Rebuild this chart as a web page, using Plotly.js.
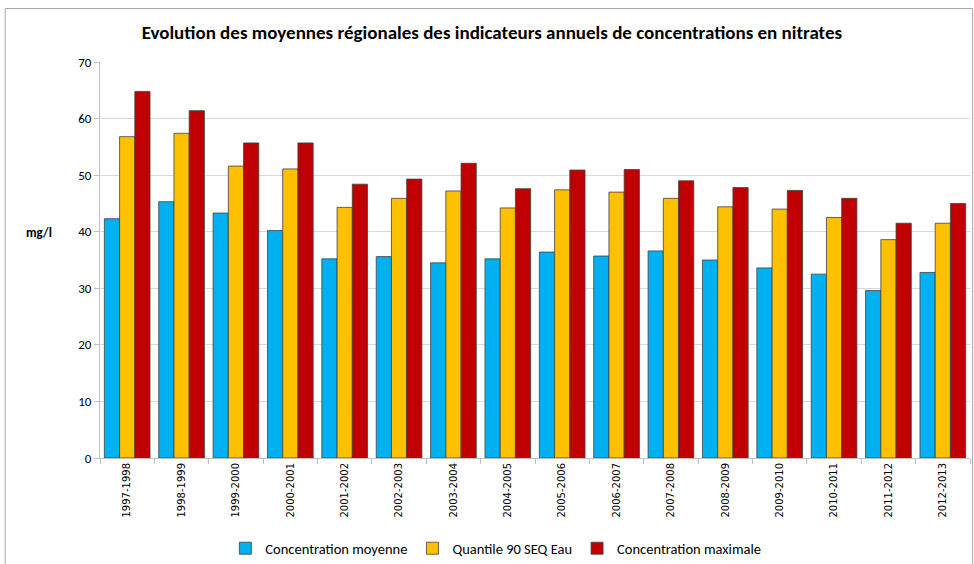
<!DOCTYPE html>
<html><head><meta charset="utf-8">
<script src="https://cdn.plot.ly/plotly-3.0.1.min.js"></script>
<style>body{margin:0;background:#fff}#chart{width:974px;height:564px}</style>
</head><body><div id="chart"></div>
<script>
const categories = ["1997-1998","1998-1999","1999-2000","2000-2001","2001-2002","2002-2003","2003-2004","2004-2005","2005-2006","2006-2007","2007-2008","2008-2009","2009-2010","2010-2011","2011-2012","2012-2013"];
const moyenne = [42.3,45.3,43.3,40.2,35.2,35.6,34.5,35.2,36.4,35.7,36.6,35.0,33.6,32.5,29.6,32.8];
const quantile90 = [56.8,57.4,51.6,51.1,44.3,45.9,47.2,44.2,47.4,47.0,45.9,44.4,44.0,42.5,38.6,41.5];
const maximale = [64.8,61.4,55.7,55.7,48.4,49.3,52.1,47.6,50.9,51.0,49.0,47.8,47.3,45.9,41.5,45.0];
const yTicks = [0,10,20,30,40,50,60,70];

const font = "Liberation Sans Narrow, Carlito, Noto Sans, sans-serif";
const line = {color:'#404040', width:0.8};
const traces = [
  {type:'bar', name:'Concentration moyenne', x:categories, y:moyenne, marker:{color:'#00B0F0', line:line}},
  {type:'bar', name:'Quantile 90 SEQ Eau', x:categories, y:quantile90, marker:{color:'#FFC000', line:line}},
  {type:'bar', name:'Concentration maximale', x:categories, y:maximale, marker:{color:'#C00000', line:line}}
];
const layout = {
  width:974, height:564,
  margin:{l:100, r:4, t:62, b:106, autoexpand:false},
  paper_bgcolor:'#fff', plot_bgcolor:'#fff',
  font:{family:font, size:12, color:'#000'},
  title:{text:'<b>Evolution des moyennes régionales des indicateurs annuels de concentrations en nitrates</b>', x:0.505, xanchor:'center', y:0.943, yanchor:'middle', font:{family:font, size:19, color:'#000'}},
  barmode:'group', bargap:0.16, bargroupgap:0,
  xaxis:{type:'category', tickangle:-90, tickfont:{size:10, family:'DejaVu Sans, sans-serif'}, ticks:'outside', tickson:'boundaries', ticklen:5, tickcolor:'#bfbfbf', showline:true, linecolor:'#bfbfbf', showgrid:false},
  yaxis:{range:[0,70], tickvals:yTicks, ticks:'outside', ticklen:5, tickcolor:'#bfbfbf', showline:true, linecolor:'#bfbfbf', gridcolor:'#d9d9d9', tickfont:{size:13}, zeroline:false},
  legend:{orientation:'h', x:0.455, xanchor:'center', y:-0.228, yanchor:'middle', font:{size:14.5}, traceorder:'normal', itemwidth:30},
  annotations:[{text:'<b>mg/l</b>', xref:'paper', yref:'paper', x:-0.07, y:0.57, showarrow:false, font:{size:13}, xanchor:'center'}],
  shapes:[{type:'rect', xref:'paper', yref:'paper', x0:-0.109, x1:1.003, y0:-0.27, y1:1.135, line:{color:'#a6a6a6', width:1}}]
};
Plotly.newPlot('chart', traces, layout, {displayModeBar:false});
</script></body></html>
